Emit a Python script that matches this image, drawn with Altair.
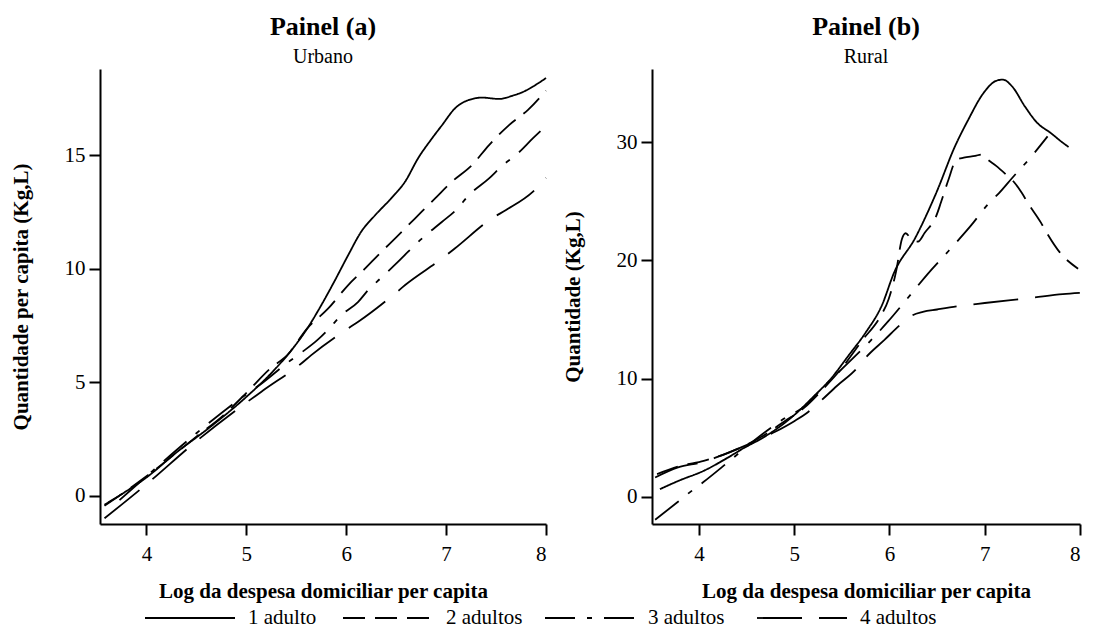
import altair as alt
import pandas as pd

FONT = "Liberation Serif"
SERIES = ["1 adulto", "2 adultos", "3 adultos", "4 adultos"]
DASHES = [[1, 0], [22, 10], [30, 12, 5, 12], [45, 17]]

# ---- Painel (a) Urbano ----
A1_X = [3.58, 3.8, 4.0, 4.3, 4.66, 5.0, 5.25, 5.45, 5.6, 5.75, 5.88, 6.02, 6.15, 6.29, 6.45, 6.59, 6.72, 6.86, 6.96, 7.09, 7.23, 7.36, 7.53, 7.67, 7.78, 7.87, 8.0]
A1_Y = [-0.40, 0.2, 0.8, 1.9, 3.1, 4.35, 5.4, 6.4, 7.3, 8.39, 9.43, 10.6, 11.63, 12.36, 13.1, 13.84, 14.87, 15.75, 16.33, 17.07, 17.44, 17.54, 17.48, 17.63, 17.81, 18.03, 18.4]
A2_X = [3.58, 4.0, 4.5, 4.77, 5.01, 5.24, 5.41, 5.61, 5.82, 6.02, 6.19, 6.32, 6.49, 6.69, 6.89, 7.06, 7.26, 7.43, 7.63, 7.82, 8.0]
A2_Y = [-0.45, 0.85, 2.6, 3.54, 4.57, 5.6, 6.19, 7.37, 8.25, 9.28, 10.01, 10.6, 11.34, 12.22, 13.1, 13.84, 14.57, 15.45, 16.33, 17.0, 17.85]
A3_X = [3.73, 4.0, 4.5, 4.94, 5.17, 5.41, 5.55, 5.71, 5.83, 5.95, 6.12, 6.22, 6.35, 6.52, 6.62, 6.76, 6.96, 7.1, 7.23, 7.43, 7.57, 7.7, 7.87, 8.0]
A3_Y = [-0.2, 0.85, 2.75, 4.28, 5.0, 5.85, 6.3, 6.85, 7.37, 7.95, 8.54, 9.06, 9.6, 10.31, 10.75, 11.34, 12.07, 12.59, 13.25, 13.98, 14.57, 15.01, 15.75, 16.3]
A4_X = [3.58, 4.0, 4.5, 5.0, 5.17, 5.55, 5.65, 6.02, 6.12, 6.49, 6.59, 6.96, 7.09, 7.46, 7.6, 7.87, 8.0]
A4_Y = [-1.0, 0.5, 2.4, 4.1, 4.64, 5.82, 6.19, 7.37, 7.66, 8.91, 9.28, 10.45, 10.9, 12.22, 12.59, 13.4, 14.0]

# ---- Painel (b) Rural ----
B1_X = [3.59, 3.8, 4.05, 4.3, 4.48, 4.65, 4.81, 5.01, 5.21, 5.38, 5.58, 5.75, 5.92, 6.05, 6.27, 6.49, 6.69, 6.82, 6.99, 7.12, 7.19, 7.29, 7.42, 7.55, 7.69, 7.82, 7.88]
B1_Y = [0.65, 1.4, 2.2, 3.3, 4.17, 4.9, 5.72, 6.99, 8.54, 9.95, 12.06, 13.9, 16.2, 19.0, 21.9, 25.7, 29.7, 31.8, 34.2, 35.2, 35.3, 34.7, 33.05, 31.65, 30.8, 29.96, 29.6]
B2_X = [3.56, 3.8, 4.05, 4.3, 4.5, 4.7, 4.9, 5.1, 5.3, 5.5, 5.72, 5.9, 5.99, 6.07, 6.13, 6.17, 6.22, 6.3, 6.37, 6.49, 6.54, 6.62, 6.7, 6.78, 6.9, 6.97, 7.02, 7.12, 7.22, 7.3, 7.39, 7.45, 7.59, 7.65, 7.79, 7.98]
B2_Y = [1.92, 2.6, 3.05, 3.7, 4.4, 5.3, 6.4, 7.5, 9.1, 10.9, 13.3, 15.2, 16.7, 19.1, 21.8, 22.3, 21.9, 21.6, 22.35, 23.75, 24.9, 26.85, 28.5, 28.7, 28.85, 28.97, 28.6, 28.0, 27.3, 26.7, 25.7, 24.9, 23.2, 22.35, 20.66, 19.3]
B3_X = [3.54, 3.78, 3.91, 4.05, 4.3, 4.6, 4.91, 5.1, 5.31, 5.55, 5.8, 5.99, 6.19, 6.4, 6.62, 6.85, 7.05, 7.15, 7.29, 7.49, 7.66]
B3_Y = [-1.94, -0.42, 0.42, 1.27, 2.9, 4.9, 6.7, 7.6, 9.33, 11.2, 13.2, 14.88, 16.8, 18.85, 20.8, 22.9, 24.9, 25.7, 27.0, 28.8, 30.5]
B4_X = [3.54, 3.78, 4.05, 4.18, 4.48, 4.8, 5.0, 5.15, 5.29, 5.45, 5.65, 5.75, 5.95, 6.12, 6.24, 6.35, 6.5, 6.74, 7.0, 7.5, 7.82, 8.0]
B4_Y = [1.64, 2.49, 2.96, 3.33, 4.31, 5.5, 6.4, 7.2, 8.2, 9.4, 10.8, 11.78, 13.3, 14.6, 15.36, 15.65, 15.85, 16.15, 16.4, 16.85, 17.15, 17.25]

X_TICKS = [4, 5, 6, 7, 8]
YA_TICKS = [0, 5, 10, 15]
YB_TICKS = [0, 10, 20, 30]

# legend layout (pixels inside the legend strip, origin = left edge of panel (a) plot)
LEG_W = 940
LEG_H = 14
LEG_SYM_START = [45, 243, 445, 657]
LEG_SYM_LEN = 90
LEG_LABEL_GAP = 13

PLOT_H = 455


def frame(xs_list, ys_list):
    rows = []
    for name, xs, ys in zip(SERIES, xs_list, ys_list):
        for x, y in zip(xs, ys):
            rows.append({"serie": name, "x": x, "y": y})
    return pd.DataFrame(rows)


df_a = frame([A1_X, A2_X, A3_X, A4_X], [A1_Y, A2_Y, A3_Y, A4_Y])
df_b = frame([B1_X, B2_X, B3_X, B4_X], [B1_Y, B2_Y, B3_Y, B4_Y])

dash_scale = alt.Scale(domain=SERIES, range=DASHES)


def panel(df, title, subtitle, xdom, ydom, yticks, ytitle, width):
    return alt.Chart(df).mark_line(
        color="black", strokeWidth=1.8, interpolate="monotone"
    ).encode(
        x=alt.X("x:Q", scale=alt.Scale(domain=xdom, nice=False, zero=False),
                axis=alt.Axis(values=X_TICKS, format="d",
                              title="Log da despesa domiciliar per capita")),
        y=alt.Y("y:Q", scale=alt.Scale(domain=ydom, nice=False, zero=False),
                axis=alt.Axis(values=yticks, format="d", title=ytitle)),
        strokeDash=alt.StrokeDash("serie:N", scale=dash_scale, sort=SERIES, legend=None),
    ).properties(
        width=width, height=PLOT_H,
        title=alt.TitleParams(text=title, subtitle=subtitle),
    )


pa = panel(df_a, "Painel (a)", "Urbano", [3.535, 8.0], [-1.25, 18.8], YA_TICKS,
           "Quantidade per capita (Kg,L)", 446)
pb = panel(df_b, "Painel (b)", "Rural", [3.507, 8.0], [-2.3, 36.2], YB_TICKS,
           "Quantidade (Kg,L)", 428)

# custom legend strip
leg_df = pd.DataFrame({
    "serie": SERIES,
    "x0": LEG_SYM_START,
    "x1": [s + LEG_SYM_LEN for s in LEG_SYM_START],
    "tx": [s + LEG_SYM_LEN + LEG_LABEL_GAP for s in LEG_SYM_START],
})
leg_x = alt.Scale(domain=[0, LEG_W], nice=False, zero=False)
leg_rules = alt.Chart(leg_df).mark_rule(color="black", strokeWidth=1.8).encode(
    x=alt.X("x0:Q", scale=leg_x, axis=None),
    x2="x1:Q",
    y=alt.value(LEG_H / 2),
    strokeDash=alt.StrokeDash("serie:N", scale=dash_scale, sort=SERIES, legend=None),
)
leg_text = alt.Chart(leg_df).mark_text(
    align="left", baseline="middle", font=FONT, fontSize=21, color="black"
).encode(
    x=alt.X("tx:Q", scale=leg_x, axis=None),
    y=alt.value(LEG_H / 2),
    text="serie:N",
)
legend_strip = (leg_rules + leg_text).properties(width=LEG_W, height=LEG_H)

top = alt.hconcat(pa, pb, spacing=12)

chart = alt.vconcat(top, legend_strip, spacing=6).properties(
    padding={"left": 2, "top": 6, "right": 0, "bottom": 0}
).configure_axis(
    domainColor="black", domainWidth=2, tickColor="black", tickWidth=2, tickSize=11,
    labelFont=FONT, labelFontSize=21, labelColor="black", labelPadding=4,
    titleFont=FONT, titleFontSize=21, titleFontWeight="bold", titleColor="black",
    grid=False,
).configure_axisX(labelPadding=8, titlePadding=16).configure_axisY(
    titlePadding=33
).configure_view(stroke=None).configure_title(
    font=FONT, fontSize=26, fontWeight="bold", color="black",
    subtitleFont=FONT, subtitleFontSize=20, subtitleColor="black",
    anchor="middle", offset=2, subtitlePadding=7,
)

chart.save("out.html", embed_options={"renderer": "svg", "actions": False})
